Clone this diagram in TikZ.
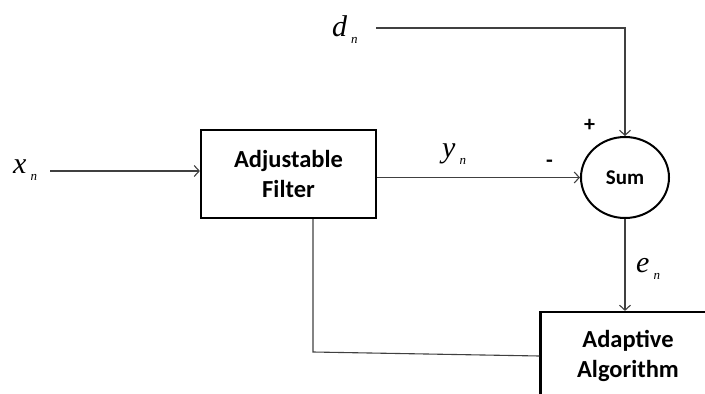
\documentclass[tikz,border=0pt]{standalone}
\usepackage{fontspec}
\setmainfont{Carlito}
\newfontfamily\timfont{Liberation Serif}
\usetikzlibrary{arrows.meta,shapes.geometric}
\newcommand\mysubn{\hspace{4pt}\raisebox{-7.5pt}{\fontsize{13}{13}\selectfont n}}
\begin{document}
\begin{tikzpicture}[x=1pt,y=-1pt,
  blk/.style={draw=black,line width=2.2pt,minimum width=175pt,minimum height=88pt,inner sep=0pt,align=center,font=\fontsize{24.5}{30}\selectfont\bfseries},
  sumnode/.style={ellipse,draw=black,line width=2pt,minimum width=88pt,minimum height=81pt,inner sep=0pt,font=\fontsize{21}{21}\selectfont\bfseries},
  conn/.style={draw=black!75,line width=1.1pt},
  arr/.style={conn,-{Straight Barb[length=5pt,width=11pt]}},
  sig/.style={anchor=base west,inner sep=0pt,font=\timfont\itshape\fontsize{30}{30}\selectfont},
  sgn/.style={inner sep=0pt,font=\fontsize{22}{22}\selectfont\bfseries}]
\useasboundingbox (0,0) rectangle (705,394);
\node[blk] (AF) at (288.5,174) {Adjustable\\Filter};
\node[sumnode] (S) at (625,177.5) {Sum};
\node[blk] (AA) at (628,356) {Adaptive\\Algorithm};
\node[sig] (xn) at (13,173) {x\mysubn};
\node[sig] (dn) at (332,36) {d\mysubn};
\node[sig] (yn) at (442,157) {y\mysubn};
\node[sig] (en) at (636,272) {e\mysubn};
\node[sgn] (plus) at (589.5,125.5) {+};
\node[sgn] (minus) at (549.5,164) {-};
\coordinate (xs) at (50,171);
\coordinate (ds) at (376,28);
\coordinate (fb) at (313,352);
\draw[arr] (xs) -- (xs -| AF.west);
\draw[arr] (AF.east |- S.west) -- (S.west);
\draw[arr] (ds) -| (S.north);
\draw[arr] (S.south) -- (S.south |- AA.north);
\draw[conn] (fb |- AF.south) -- (fb) -- (AA.west);
\end{tikzpicture}
\end{document}
